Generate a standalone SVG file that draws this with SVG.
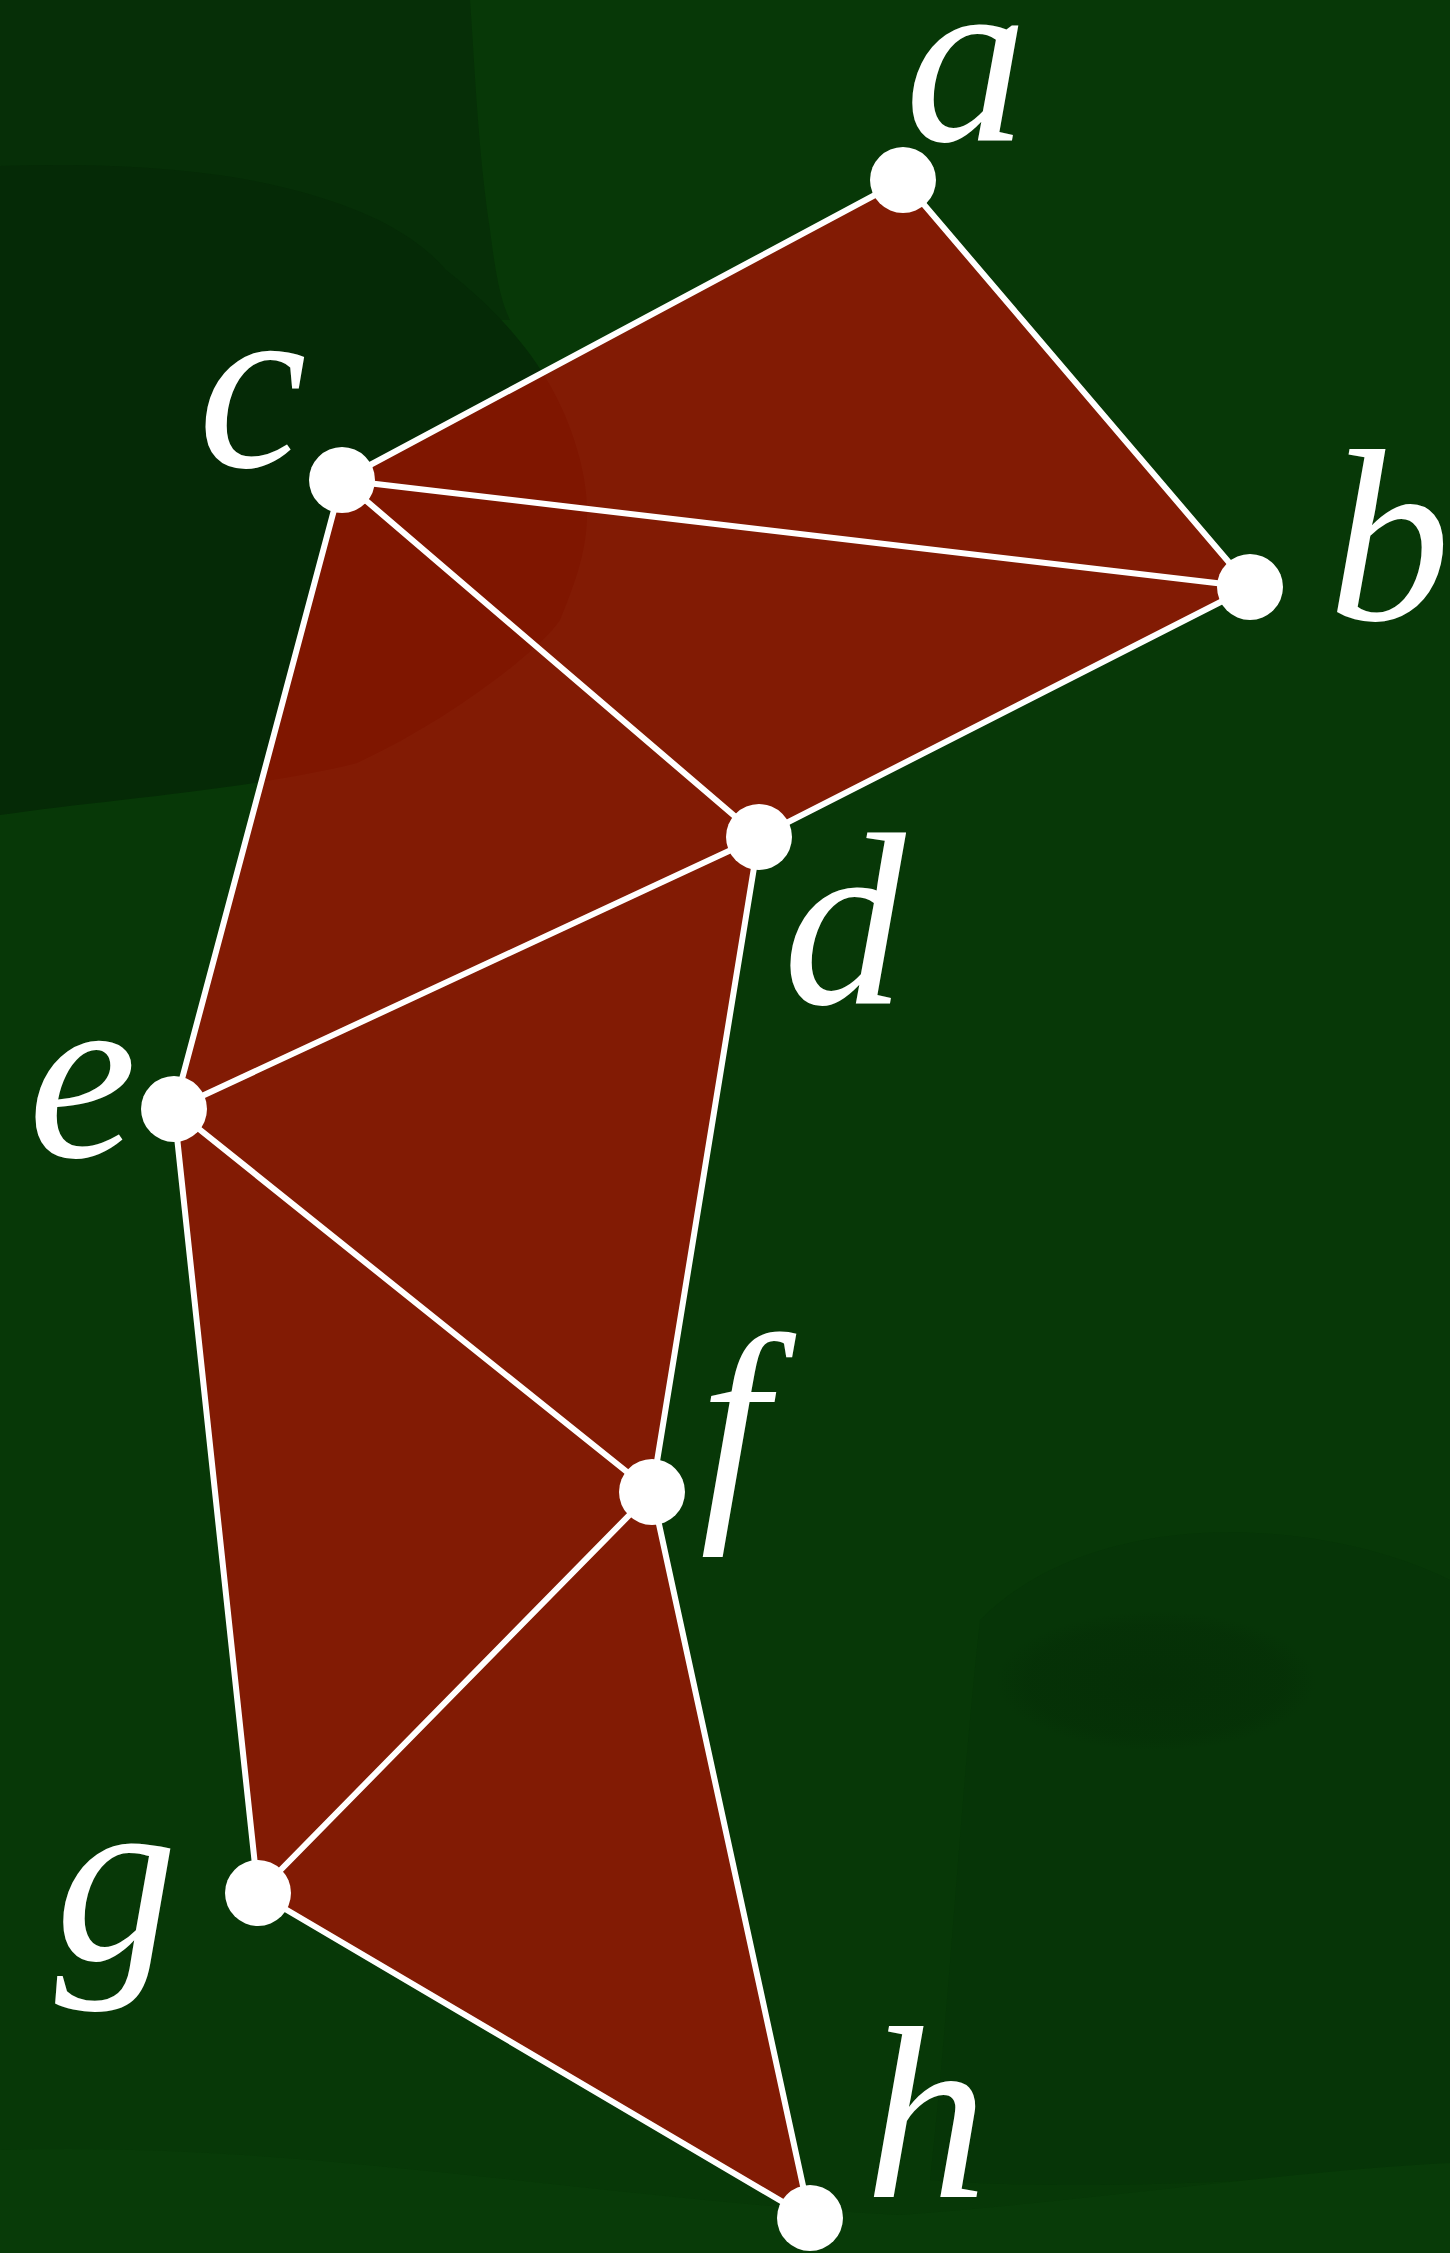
<svg xmlns="http://www.w3.org/2000/svg" width="1450" height="2253" viewBox="0 0 1450 2253">
  <defs>
    <clipPath id="faceclip">
      <polygon points="903,180 1250,587 759,837 652,1492 810,2218 258,1893 174,1109 342,480"/>
    </clipPath>
    <path id="darkzone" d="M0,166 C120,162 230,170 312,195 C380,215 420,240 446,270 C510,320 560,380 580,460 C595,520 585,560 560,620 C540,650 450,720 357,763 C250,790 100,800 0,815 Z"/>
    <radialGradient id="darkspot" cx="0.5" cy="0.5" r="0.5">
      <stop offset="0" stop-color="#052f06" stop-opacity="1"/>
      <stop offset="0.8" stop-color="#052f06" stop-opacity="0.6"/>
      <stop offset="1" stop-color="#052f06" stop-opacity="0"/>
    </radialGradient>
    <style>
      .edge { stroke: #ffffff; stroke-width: 6; stroke-linecap: round; fill: none; }
      .node { fill: #ffffff; }
      .lbl { font-family: "Liberation Serif", "Times New Roman", serif; font-style: italic; font-size: 245px; fill: #ffffff; }
    </style>
  </defs>
  <g id="background">
    <rect x="0" y="0" width="1450" height="2253" fill="#073807"/>
    <path d="M0,0 L470,0 C475,70 478,150 490,230 C495,270 500,300 510,320 L0,320 Z" fill="#062f07"/>
    <use href="#darkzone" fill="#052a06"/>
    <path d="M980,1620 C1100,1500 1330,1520 1450,1580 L1450,2165 C1250,2185 1050,2190 930,2180 C950,2000 960,1800 980,1620 Z" fill="#063507"/>
    <ellipse cx="1156" cy="1681" rx="160" ry="70" fill="url(#darkspot)"/>
    <path d="M0,2150 C300,2140 600,2200 900,2215 C1100,2200 1300,2170 1450,2163 L1450,2253 L0,2253 Z" fill="#083b08"/>
  </g>
  <g id="faces">
    <polygon points="903,180 1250,587 759,837 652,1492 810,2218 258,1893 174,1109 342,480" fill="#821b04"/>
    <g clip-path="url(#faceclip)">
      <use href="#darkzone" fill="#7f1600"/>
    </g>
  </g>
  <g id="connectors">
    <line class="edge" x1="342" y1="480" x2="903" y2="180"/>
    <line class="edge" x1="903" y1="180" x2="1250" y2="587"/>
    <line class="edge" x1="342" y1="480" x2="1250" y2="587"/>
    <line class="edge" x1="342" y1="480" x2="759" y2="837"/>
    <line class="edge" x1="1250" y1="587" x2="759" y2="837"/>
    <line class="edge" x1="342" y1="480" x2="174" y2="1109"/>
    <line class="edge" x1="174" y1="1109" x2="759" y2="837"/>
    <line class="edge" x1="759" y1="837" x2="652" y2="1492"/>
    <line class="edge" x1="174" y1="1109" x2="652" y2="1492"/>
    <line class="edge" x1="174" y1="1109" x2="258" y2="1893"/>
    <line class="edge" x1="258" y1="1893" x2="652" y2="1492"/>
    <line class="edge" x1="652" y1="1492" x2="810" y2="2218"/>
    <line class="edge" x1="258" y1="1893" x2="810" y2="2218"/>
  </g>
  <g id="node-a"><circle class="node" cx="903" cy="180" r="33"/><text class="lbl" x="905" y="140">a</text></g>
  <g id="node-b"><circle class="node" cx="1250" cy="587" r="33"/><text class="lbl" x="1328" y="620">b</text></g>
  <g id="node-c"><circle class="node" cx="342" cy="480" r="33"/><text class="lbl" x="198" y="467">c</text></g>
  <g id="node-d"><circle class="node" cx="759" cy="837" r="33"/><text class="lbl" x="783" y="1003">d</text></g>
  <g id="node-e"><circle class="node" cx="174" cy="1109" r="33"/><text class="lbl" x="28" y="1157">e</text></g>
  <g id="node-f"><circle class="node" cx="652" cy="1492" r="33"/><text class="lbl" x="700" y="1505">f</text></g>
  <g id="node-g"><circle class="node" cx="258" cy="1893" r="33"/><text class="lbl" x="55" y="1960">g</text></g>
  <g id="node-h"><circle class="node" cx="810" cy="2218" r="33"/><text class="lbl" x="865" y="2197">h</text></g>
</svg>
